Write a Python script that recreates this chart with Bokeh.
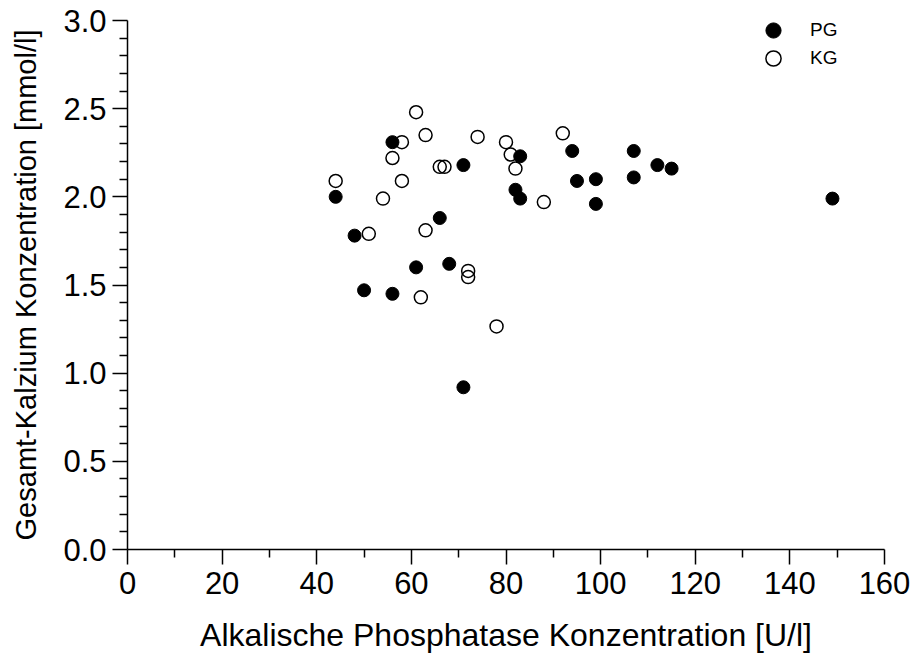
from bokeh.plotting import figure
from bokeh.models import Range1d, FixedTicker, PrintfTickFormatter, Legend, LegendItem
from bokeh.embed import file_html
from bokeh.resources import INLINE

# PG group (filled)
pg_alp = [44, 48, 50, 56, 56, 61, 66, 68, 71, 71, 82, 83, 83, 94, 95, 99, 99, 107, 107, 112, 115, 149]
pg_ca = [2.00, 1.78, 1.47, 2.31, 1.45, 1.60, 1.88, 1.62, 2.18, 0.92, 2.04, 2.23, 1.99, 2.26, 2.09, 2.10, 1.96, 2.26, 2.11, 2.18, 2.16, 1.99]

# KG group (open)
kg_alp = [44, 51, 54, 56, 58, 58, 61, 62, 63, 63, 66, 67, 72, 72, 74, 78, 80, 81, 82, 88, 92]
kg_ca = [2.09, 1.79, 1.99, 2.22, 2.31, 2.09, 2.48, 1.43, 2.35, 1.81, 2.17, 2.17, 1.58, 1.545, 2.34, 1.265, 2.31, 2.24, 2.16, 1.97, 2.36]

x_ticks = [0, 20, 40, 60, 80, 100, 120, 140, 160]
x_minor = [10, 30, 50, 70, 90, 110, 130, 150]
y_ticks = [0.0, 0.5, 1.0, 1.5, 2.0, 2.5, 3.0]
y_minor = [round(i * 0.1, 1) for i in range(31) if i % 5 != 0]

x_title = "Alkalische Phosphatase Konzentration [U/l]"
y_title = "Gesamt-Kalzium Konzentration [mmol/l]"

FONT = "Liberation Sans"

p = figure(width=913, height=655, output_backend="svg", toolbar_location=None,
           x_range=Range1d(0, 160), y_range=Range1d(0, 3.0),
           min_border_left=127, min_border_right=29, min_border_top=20, min_border_bottom=106)
p.outline_line_color = None
p.xgrid.visible = False
p.ygrid.visible = False
p.background_fill_color = "white"
p.border_fill_color = "white"

r_pg = p.scatter(pg_alp, pg_ca, size=13, marker="circle", fill_color="black", line_color="black", line_width=1)
r_kg = p.scatter(kg_alp, kg_ca, size=13, marker="circle", fill_alpha=0, line_color="black", line_width=1.5)

for ax in (p.xaxis[0], p.yaxis[0]):
    ax.axis_line_color = "black"
    ax.axis_line_width = 1.5
    ax.major_tick_line_color = "black"
    ax.minor_tick_line_color = "black"
    ax.major_tick_line_width = 1.5
    ax.minor_tick_line_width = 1.5
    ax.major_tick_in = 0
    ax.major_tick_out = 15
    ax.minor_tick_in = 0
    ax.minor_tick_out = 8
    ax.major_label_text_font = FONT
    ax.major_label_text_font_size = "31px"
    ax.major_label_text_color = "black"
    ax.axis_label_text_font = FONT
    ax.axis_label_text_font_style = "normal"
    ax.axis_label_text_color = "black"

p.xaxis.axis_label_text_font_size = "32px"
p.yaxis.axis_label_text_font_size = "29px"
p.xaxis.ticker = FixedTicker(ticks=x_ticks, minor_ticks=x_minor)
p.yaxis.ticker = FixedTicker(ticks=y_ticks, minor_ticks=y_minor)
p.yaxis.formatter = PrintfTickFormatter(format="%.1f")
p.xaxis.axis_label = x_title
p.yaxis.axis_label = y_title
p.xaxis.major_label_standoff = 7
p.yaxis.major_label_standoff = 6
p.xaxis.axis_label_standoff = 20
p.yaxis.axis_label_standoff = 18

for label, rend, loc in (("PG", r_pg, (627, 500)), ("KG", r_kg, (627, 472))):
    lg = Legend(items=[LegendItem(label=label, renderers=[rend])], location=loc,
                glyph_width=38, glyph_height=38, label_height=38, label_standoff=18,
                padding=0, margin=0, spacing=0,
                border_line_color=None, background_fill_alpha=0,
                label_text_font=FONT, label_text_font_size="19px", label_text_color="black")
    p.add_layout(lg, "center")

open("out.html", "w").write(file_html(p, INLINE))
